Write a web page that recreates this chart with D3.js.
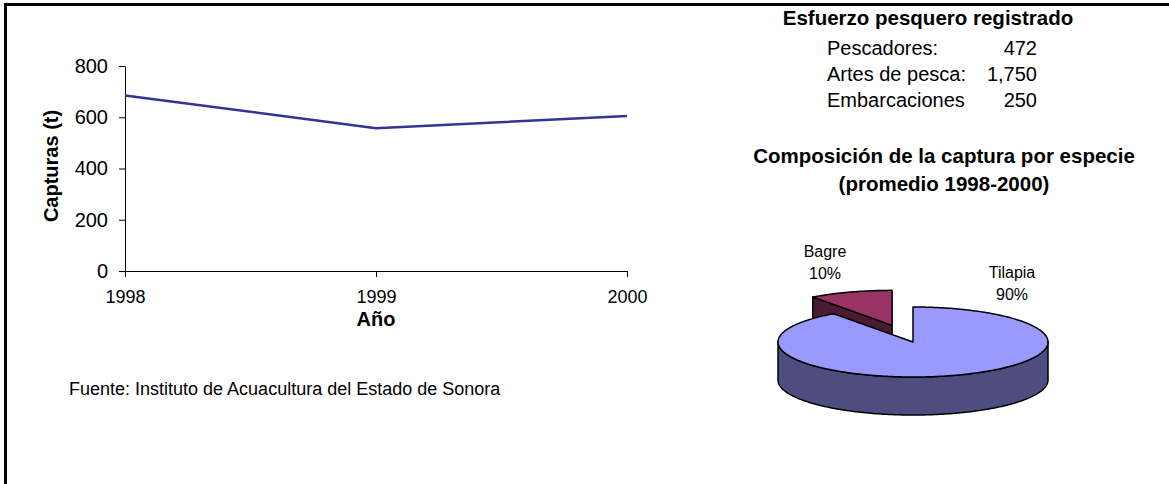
<!DOCTYPE html>
<html>
<head>
<meta charset="utf-8">
<script src="https://cdn.jsdelivr.net/npm/d3@7"></script>
<style>
body { margin: 0; background: #fff; }
svg text { font-family: "Liberation Sans", Arial, sans-serif; }
</style>
</head>
<body>
<svg id="mainSVG" width="1169" height="484"></svg>
<script>

// data
var years = ["1998", "1999", "2000"];
var capturas = [685, 557, 605];
var yTicks = [0, 200, 400, 600, 800];

var esfuerzoLabels = ["Pescadores:", "Artes de pesca:", "Embarcaciones"];
var esfuerzoValues = ["472", "1,750", "250"];

var especies = ["Tilapia", "Bagre"];
var porcentajes = [90, 10];

var svg = d3.select("#mainSVG");

// frame
svg.append("path")
    .attr("d", "M5.5,484V4.5H1169")
    .attr("fill", "none")
    .attr("stroke", "#000")
    .attr("stroke-width", 3);

//Line chart
var x = d3.scalePoint().domain(years).range([125, 627]);
var y = d3.scaleLinear().domain([0, 800]).range([271, 66]);

var yAxis = svg.append("g")
    .attr("transform", "translate(125,0)")
    .call(d3.axisLeft(y).tickValues(yTicks).tickSize(6).tickSizeOuter(0).tickPadding(11));
yAxis.selectAll("text").attr("font-size", "20").attr("fill", "#000").style("font-family", "Liberation Sans, Arial, sans-serif");

var xAxis = svg.append("g")
    .attr("transform", "translate(0,271)")
    .call(d3.axisBottom(x).tickSize(6).tickSizeOuter(0).tickPadding(13));
xAxis.selectAll("text").attr("font-size", "18").attr("fill", "#000").style("font-family", "Liberation Sans, Arial, sans-serif");

svg.selectAll(".domain, .tick line").attr("stroke", "#000");

var line = d3.line()
    .x(function(d, i) { return x(years[i]); })
    .y(function(d) { return y(d); });

svg.append("path")
    .datum(capturas)
    .attr("d", line)
    .attr("fill", "none")
    .attr("stroke", "#333399")
    .attr("stroke-width", 2.5);

svg.append("text")
    .attr("x", 376)
    .attr("y", 326)
    .attr("font-size", "20")
    .attr("font-weight", "bold")
    .attr("text-anchor", "middle")
    .text("Año");

svg.append("text")
    .attr("transform", "translate(58,166) rotate(-90)")
    .attr("font-size", "20")
    .attr("font-weight", "bold")
    .attr("text-anchor", "middle")
    .text("Capturas (t)");

svg.append("text")
    .attr("x", 69)
    .attr("y", 395)
    .attr("font-size", "18")
    .text("Fuente: Instituto de Acuacultura del Estado de Sonora");

//Esfuerzo pesquero
svg.append("text")
    .attr("x", 928)
    .attr("y", 25)
    .attr("font-size", "20.5")
    .attr("font-weight", "bold")
    .attr("text-anchor", "middle")
    .text("Esfuerzo pesquero registrado");

esfuerzoLabels.forEach(function(lbl, i) {
  svg.append("text")
      .attr("x", 827)
      .attr("y", 55 + i * 26)
      .attr("font-size", "20")
      .text(lbl);
  svg.append("text")
      .attr("x", 1037)
      .attr("y", 55 + i * 26)
      .attr("font-size", "20")
      .attr("text-anchor", "end")
      .text(esfuerzoValues[i]);
});

svg.append("text")
    .attr("x", 944)
    .attr("y", 163)
    .attr("font-size", "20.5")
    .attr("font-weight", "bold")
    .attr("text-anchor", "middle")
    .text("Composición de la captura por especie");

svg.append("text")
    .attr("x", 944)
    .attr("y", 191)
    .attr("font-size", "20.5")
    .attr("font-weight", "bold")
    .attr("text-anchor", "middle")
    .text("(promedio 1998-2000)");

//3D pie
var cx = 913, cy = 342, rx = 135, ry = 35, depth = 38, explode = 0.5;
var topColors = ["#9999FF", "#993366"];
var sideColors = ["#4D4D80", "#4D1A33"];

var pie = d3.pie().sort(null).value(function(d) { return d; });
var slices = pie(porcentajes);

function pt(a, ox, oy, dz) {
  return [cx + ox + rx * Math.sin(a), cy + oy - ry * Math.cos(a) + dz];
}

function arcPts(a0, a1, ox, oy, dz) {
  var n = Math.max(2, Math.ceil((a1 - a0) / 0.02));
  var pts = [];
  for (var k = 0; k <= n; k++) {
    pts.push(pt(a0 + (a1 - a0) * k / n, ox, oy, dz));
  }
  return pts;
}

function poly(pts) {
  return "M" + pts.map(function(p) { return p[0] + "," + p[1]; }).join("L") + "Z";
}

// draw exploded slice (behind) first, then the big one
var order = [1, 0];
order.forEach(function(i) {
  var s = slices[i];
  var a0 = s.startAngle, a1 = s.endAngle;
  var ox = 0, oy = 0;
  if (i == 1) {
    var mid = (a0 + a1) / 2;
    ox = explode * rx * Math.sin(mid);
    oy = -explode * ry * Math.cos(mid);
  }
  var g = svg.append("g");
  var c0 = [cx + ox, cy + oy], c1 = [cx + ox, cy + oy + depth];

  // outer wall, front half only
  var f0 = Math.max(a0, Math.PI / 2), f1 = Math.min(a1, 3 * Math.PI / 2);
  if (f1 > f0) {
    var topArc = arcPts(f0, f1, ox, oy, 0);
    var botArc = arcPts(f0, f1, ox, oy, depth).reverse();
    g.append("path")
        .attr("d", poly(topArc.concat(botArc)))
        .attr("fill", sideColors[i])
        .attr("stroke", "#000")
        .attr("stroke-width", 1.5)
        .attr("stroke-linejoin", "round");
  }
  // cut faces
  if (Math.sin(a0) < -0.01) {
    var p = pt(a0, ox, oy, 0);
    g.append("path")
        .attr("d", poly([c0, p, [p[0], p[1] + depth], c1]))
        .attr("fill", sideColors[i])
        .attr("stroke", "#000")
        .attr("stroke-width", 1.5)
        .attr("stroke-linejoin", "round");
  }
  if (Math.sin(a1) > 0.01) {
    var q = pt(a1, ox, oy, 0);
    g.append("path")
        .attr("d", poly([c0, q, [q[0], q[1] + depth], c1]))
        .attr("fill", sideColors[i])
        .attr("stroke", "#000")
        .attr("stroke-width", 1.5)
        .attr("stroke-linejoin", "round");
  }
  // top face
  g.append("path")
      .attr("d", poly([c0].concat(arcPts(a0, a1, ox, oy, 0))))
      .attr("fill", topColors[i])
      .attr("stroke", "#000")
      .attr("stroke-width", 1.5)
      .attr("stroke-linejoin", "round");
});

// pie labels
var labelPos = [[1012, 278], [825, 257]];
especies.forEach(function(name, i) {
  var t = svg.append("text")
      .attr("x", labelPos[i][0])
      .attr("y", labelPos[i][1])
      .attr("font-size", "16")
      .attr("text-anchor", "middle");
  t.append("tspan").attr("x", labelPos[i][0]).text(name);
  t.append("tspan").attr("x", labelPos[i][0]).attr("dy", 22).text(porcentajes[i] + "%");
});

</script>
</body>
</html>
